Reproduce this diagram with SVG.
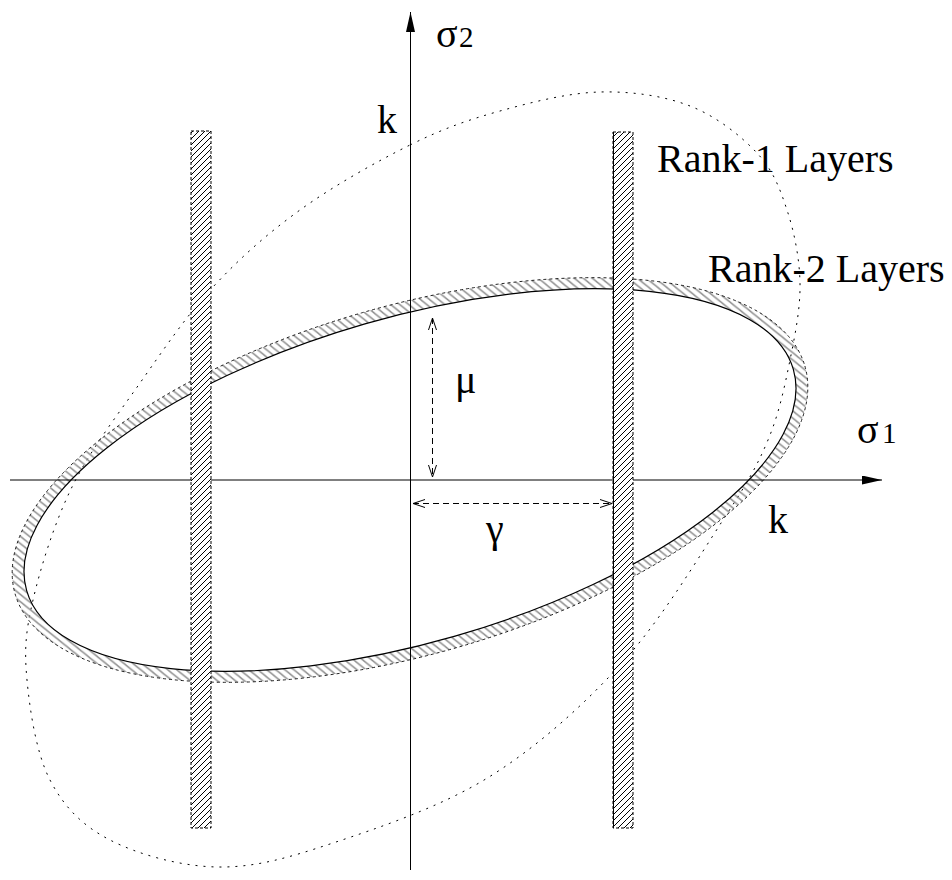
<svg xmlns="http://www.w3.org/2000/svg" width="952" height="880" viewBox="0 0 952 880">
  <style>
    .lbl { font-family: "Liberation Serif", "Times New Roman", serif; fill: #000; }
    .big { font-size: 40px; }
    .dim { stroke: #000; stroke-width: 1; fill: none; stroke-dasharray: 6 4; }
    .stripEdgeDash { stroke: #000; stroke-width: 1; stroke-dasharray: 3 2; fill: none; }
    .stripEdgeSolid { stroke: #000; stroke-width: 1; fill: none; }
  </style>
  <defs>
    <pattern id="stripHatch" patternUnits="userSpaceOnUse" width="6" height="6">
      <path d="M-1,1 l2,-2 M0,6 l6,-6 M5,7 l2,-2" stroke="#000" stroke-width="1"/>
    </pattern>
    <pattern id="bandHatch" patternUnits="userSpaceOnUse" width="8" height="8" patternTransform="rotate(10)">
      <path d="M-1,7 l2,2 M0,0 l8,8 M7,-1 l2,2" stroke="#8a8a8a" stroke-width="1.5"/>
    </pattern>
    <marker id="solidArrow" viewBox="0 0 20 9" markerWidth="20" markerHeight="9" refX="20" refY="4.5" orient="auto" markerUnits="userSpaceOnUse">
      <path d="M0,0 L20,4.5 L0,9 Z" fill="#000" stroke="none"/>
    </marker>
    <marker id="openArrow" viewBox="-1 -1 14 10" markerWidth="14" markerHeight="10" refX="12" refY="4" orient="auto-start-reverse" markerUnits="userSpaceOnUse">
      <path d="M0,0 L12,4 L0,8" fill="none" stroke="#000" stroke-width="1" stroke-dasharray="none"/>
    </marker>
  </defs>

  <rect x="0" y="0" width="952" height="880" fill="#fff"/>

  <!-- Rank-1 boundary (dotted closed curve) -->
  <g id="rank1-curve">
    <path fill="none" stroke="#000" stroke-width="1" stroke-dasharray="2 6"
      d="M410,145 C443.3,128.5 468.3,119.8 500,111 C531.7,102.2 568.3,92.8 600,92 C631.7,91.2 663.8,95.8 690,106 C716.2,116.2 740.8,135.7 757,153 C773.2,170.3 779.8,188.3 787,210 C794.2,231.7 799.5,258 800,283 C800.5,308 795.3,333.8 790,360 C784.7,386.2 779.2,413.3 768,440 C756.8,466.7 747.3,482.8 723,520 C698.7,557.2 661,620.2 622,663 C583,705.8 537.2,747 489,777 C440.8,807 378.2,828 333,843 C287.8,858 255.2,867.5 218,867 C180.8,866.5 138,854.5 110,840 C82,825.5 63.8,806.7 50,780 C36.2,753.3 29.8,710 27,680 C24.2,650 25.5,632.2 33,600 C40.5,567.8 54.2,523.2 72,487 C89.8,450.8 116.5,416.3 140,383 C163.5,349.7 186.3,315.8 213,287 C239.7,258.2 267.2,233.7 300,210 C332.8,186.3 376.7,161.5 410,145 Z"/>
  </g>

  <!-- Rank-2 band around the ellipse -->
  <g id="rank2-ellipse" transform="translate(410,480) rotate(-16.1)">
    <path fill="url(#bandHatch)" fill-rule="evenodd" stroke="none"
      d="M-411,0 A411,174 0 1,0 411,0 A411,174 0 1,0 -411,0 Z M-399,0 A399,162.5 0 1,0 399,0 A399,162.5 0 1,0 -399,0 Z"/>
    <ellipse cx="0" cy="0" rx="411" ry="174" fill="none" stroke="#000" stroke-width="0.8" stroke-dasharray="3 3"/>
    <ellipse cx="0" cy="0" rx="399" ry="162.5" fill="none" stroke="#000" stroke-width="1.2"/>
  </g>

  <!-- Connectors: axes -->
  <g id="connectors">
    <line id="axis-sigma1" x1="10" y1="480" x2="882" y2="480" stroke="#000" stroke-width="1" marker-end="url(#solidArrow)"/>
    <line id="axis-sigma2" x1="410.5" y1="870" x2="410.5" y2="12" stroke="#000" stroke-width="1" marker-end="url(#solidArrow)"/>
  </g>

  <!-- Rank-1 layers (vertical strips) -->
  <g id="strip-left">
    <rect x="191" y="131" width="20" height="697" fill="#fff"/>
    <rect x="191" y="131" width="20" height="697" fill="url(#stripHatch)"/>
    <rect x="191" y="131" width="20" height="697" class="stripEdgeDash"/>
  </g>
  <g id="strip-right">
    <rect x="613" y="132" width="20" height="696" fill="#fff"/>
    <rect x="613" y="132" width="20" height="696" fill="url(#stripHatch)"/>
    <rect x="613" y="132" width="20" height="696" class="stripEdgeDash"/>
    <line x1="613.5" y1="132" x2="613.5" y2="828" class="stripEdgeSolid"/>
  </g>

  <g id="dimension-arrows">
    <line id="mu-arrow" x1="432.5" y1="318" x2="432.5" y2="477" class="dim" marker-start="url(#openArrow)" marker-end="url(#openArrow)"/>
    <line id="gamma-arrow" x1="413" y1="503.5" x2="612" y2="503.5" class="dim" marker-start="url(#openArrow)" marker-end="url(#openArrow)"/>
  </g>

  <!-- Labels -->
  <g id="labels">
    <text class="lbl" x="436" y="47"><tspan font-size="40">σ</tspan><tspan font-size="29" x="459">2</tspan></text>
    <text class="lbl" x="857" y="443"><tspan font-size="40">σ</tspan><tspan font-size="29" x="882">1</tspan></text>
    <text class="lbl big" x="377" y="133">k</text>
    <text class="lbl big" x="768" y="533">k</text>
    <text class="lbl big" x="455" y="393">μ</text>
    <text class="lbl big" x="486" y="542">γ</text>
    <text class="lbl big" x="657" y="172">Rank-1 Layers</text>
    <text class="lbl big" x="708" y="282">Rank-2 Layers</text>
  </g>
</svg>
